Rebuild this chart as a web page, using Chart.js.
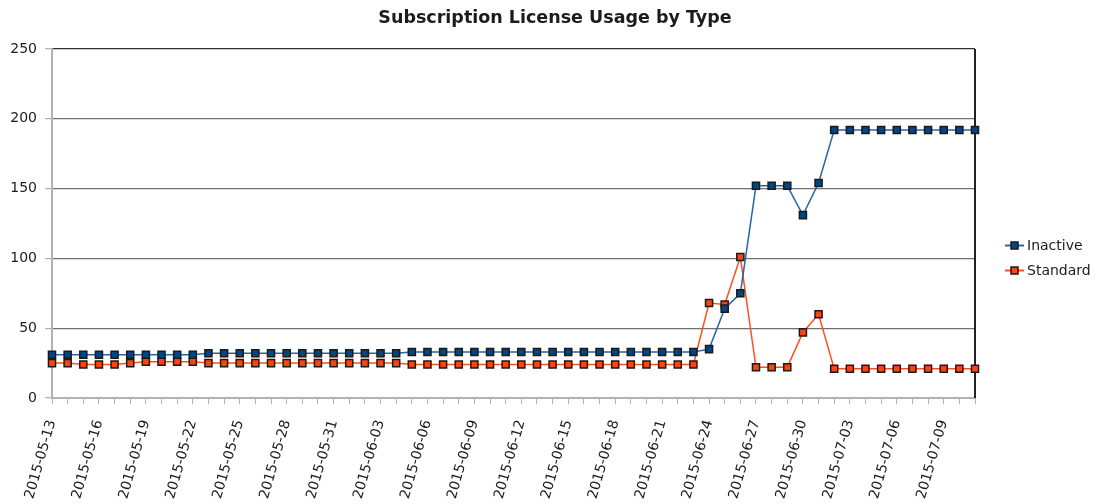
<!DOCTYPE html>
<html>
<head>
<meta charset="utf-8">
<title>Subscription License Usage by Type</title>
<script src="https://cdn.jsdelivr.net/npm/chart.js@4.4.1/dist/chart.umd.min.js"></script>
<style>
  html, body { margin: 0; padding: 0; background: #fff; }
  #wrap { width: 1100px; height: 504px; position: relative; }
</style>
</head>
<body>
<div id="wrap"><canvas id="usage"></canvas></div>
<script>
const dates = [
  '2015-05-13', '2015-05-14', '2015-05-15', '2015-05-16', '2015-05-17', '2015-05-18', '2015-05-19',
  '2015-05-20', '2015-05-21', '2015-05-22', '2015-05-23', '2015-05-24', '2015-05-25', '2015-05-26',
  '2015-05-27', '2015-05-28', '2015-05-29', '2015-05-30', '2015-05-31', '2015-06-01', '2015-06-02',
  '2015-06-03', '2015-06-04', '2015-06-05', '2015-06-06', '2015-06-07', '2015-06-08', '2015-06-09',
  '2015-06-10', '2015-06-11', '2015-06-12', '2015-06-13', '2015-06-14', '2015-06-15', '2015-06-16',
  '2015-06-17', '2015-06-18', '2015-06-19', '2015-06-20', '2015-06-21', '2015-06-22', '2015-06-23',
  '2015-06-24', '2015-06-25', '2015-06-26', '2015-06-27', '2015-06-28', '2015-06-29', '2015-06-30',
  '2015-07-01', '2015-07-02', '2015-07-03', '2015-07-04', '2015-07-05', '2015-07-06', '2015-07-07',
  '2015-07-08', '2015-07-09', '2015-07-10', '2015-07-11'
];

const inactive = [
  31, 31, 31, 31, 31, 31, 31, 31, 31, 31,
  32, 32, 32, 32, 32, 32, 32, 32, 32, 32, 32, 32, 32,
  33, 33, 33, 33, 33, 33, 33, 33, 33, 33, 33, 33, 33, 33, 33, 33, 33, 33, 33,
  35, 64, 75, 152, 152, 152, 131, 154,
  192, 192, 192, 192, 192, 192, 192, 192, 192, 192
];

const standard = [
  25, 25, 24, 24, 24, 25, 26, 26, 26, 26,
  25, 25, 25, 25, 25, 25, 25, 25, 25, 25, 25, 25, 25,
  24, 24, 24, 24, 24, 24, 24, 24, 24, 24, 24, 24, 24, 24, 24, 24, 24, 24, 24,
  68, 67, 101, 22, 22, 22, 47, 60,
  21, 21, 21, 21, 21, 21, 21, 21, 21, 21
];

const yTicks = [0, 50, 100, 150, 200, 250];
const labelEvery = 3;

const FONT = '"DejaVu Sans", "Liberation Sans", sans-serif';
const TEXT_COLOR = '#1c1c1c';
const AXIS_GREY = '#b3b3b3';

// right-hand frame line of the plot
const frameRight = {
  id: 'frameRight',
  beforeDatasetsDraw(chart) {
    const { ctx, chartArea } = chart;
    ctx.save();
    ctx.strokeStyle = '#222';
    ctx.lineWidth = 2;
    ctx.beginPath();
    ctx.moveTo(chartArea.right, chartArea.top);
    ctx.lineTo(chartArea.right, chartArea.bottom);
    ctx.stroke();
    ctx.restore();
  }
};

// legend with a line segment through a square marker, like the original
const sideLegend = {
  id: 'sideLegend',
  afterDraw(chart) {
    const { ctx, chartArea } = chart;
    const x0 = chartArea.right + 30;
    const yMid = 258;
    const rowH = 25;
    const sets = chart.data.datasets;
    ctx.save();
    ctx.font = '14px ' + FONT;
    ctx.textBaseline = 'middle';
    sets.forEach((ds, i) => {
      const y = yMid + (i - (sets.length - 1) / 2) * rowH;
      ctx.strokeStyle = ds.borderColor;
      ctx.lineWidth = 2;
      ctx.beginPath();
      ctx.moveTo(x0, y);
      ctx.lineTo(x0 + 19, y);
      ctx.stroke();
      ctx.fillStyle = ds.pointBackgroundColor;
      ctx.strokeStyle = ds.pointBorderColor;
      ctx.lineWidth = 1.5;
      ctx.fillRect(x0 + 6, y - 3.5, 7, 7);
      ctx.strokeRect(x0 + 6, y - 3.5, 7, 7);
      ctx.fillStyle = TEXT_COLOR;
      ctx.fillText(ds.label, x0 + 22, y + 1);
    });
    ctx.restore();
  }
};

function lineSeries(label, data, lineColor, pointColor) {
  return {
    label,
    data,
    borderColor: lineColor,
    borderWidth: 1.5,
    backgroundColor: pointColor,
    pointStyle: 'rect',
    pointRadius: 5,
    pointHoverRadius: 5,
    pointBackgroundColor: pointColor,
    pointBorderColor: '#1a1a1a',
    pointBorderWidth: 1.5,
    tension: 0,
    clip: false
  };
}

new Chart(document.getElementById('usage'), {
  type: 'line',
  data: {
    labels: dates,
    datasets: [
      lineSeries('Inactive', inactive, '#2a66a4', '#004586'),
      lineSeries('Standard', standard, '#ff4f1c', '#ff420e')
    ]
  },
  options: {
    responsive: true,
    maintainAspectRatio: false,
    animation: false,
    events: [],
    layout: {
      padding: { left: 10, right: 0, top: 0, bottom: 0 }
    },
    plugins: {
      legend: { display: false },
      tooltip: { enabled: false },
      title: {
        display: true,
        text: 'Subscription License Usage by Type',
        color: TEXT_COLOR,
        font: { family: FONT, size: 17.5, weight: 'bold' },
        padding: { top: 8, bottom: 20 }
      }
    },
    scales: {
      x: {
        offset: false,
        afterFit(scale) {
          scale.paddingLeft = 0;
          scale.paddingRight = 125;
          scale.height = 106;
        },
        grid: {
          display: true,
          drawOnChartArea: false,
          drawTicks: true,
          tickLength: 6,
          color: AXIS_GREY,
          tickColor: AXIS_GREY
        },
        border: { display: true, color: AXIS_GREY, width: 2 },
        ticks: {
          autoSkip: false,
          minRotation: 74,
          maxRotation: 74,
          padding: 14,
          color: TEXT_COLOR,
          font: { family: FONT, size: 14 },
          callback(value, index) {
            return index % labelEvery === 0 ? dates[index] : '';
          }
        }
      },
      y: {
        min: yTicks[0],
        max: yTicks[yTicks.length - 1],
        afterBuildTicks(scale) {
          scale.ticks = yTicks.map((v) => ({ value: v }));
        },
        afterFit(scale) {
          scale.width = 42;
        },
        grid: {
          drawTicks: true,
          tickLength: 7,
          lineWidth: 1.2,
          color(ctx) {
            if (ctx.tick.value === 0) return 'rgba(0,0,0,0)';
            if (ctx.tick.value === 250) return '#333';
            return '#707070';
          },
          tickColor: AXIS_GREY
        },
        border: { display: true, color: AXIS_GREY, width: 2 },
        ticks: {
          padding: 8,
          color: TEXT_COLOR,
          font: { family: FONT, size: 14 }
        }
      }
    }
  },
  plugins: [frameRight, sideLegend]
});
</script>
</body>
</html>
